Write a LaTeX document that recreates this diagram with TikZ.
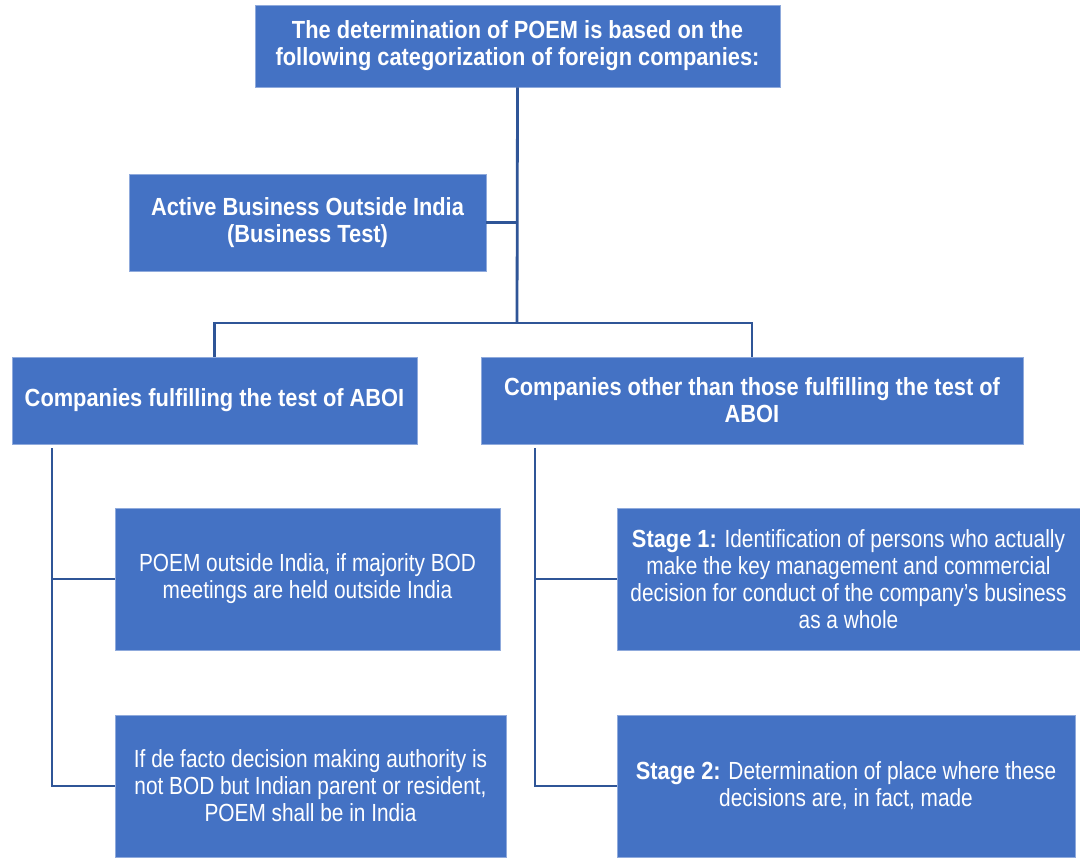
\documentclass[tikz,border=0pt]{standalone}
\usepackage{fontspec}
\setmainfont{Liberation Sans}[FakeStretch=0.84, BoldFeatures={FakeStretch=0.88}]
\usepackage{xcolor}
\usepackage{tikz}
\usetikzlibrary{arrows.meta,
                calc,
                positioning}

\definecolor{boxblue}{HTML}{4472C4}
\definecolor{edgeblue}{HTML}{8FAADC}
\definecolor{linkblue}{HTML}{2F5597}

\tikzset{
  catbox/.style={rectangle, fill=boxblue, draw=edgeblue, line width=0.6pt,
                 text=white, align=center, inner sep=0pt,
                 font=\fontsize{18.6}{20.3}\selectfont},
  headbox/.style={catbox, font=\fontsize{18.6}{20.3}\selectfont\bfseries},
  link/.style={draw=linkblue, line width=2.1pt}
}

\begin{document}
\begin{tikzpicture}[x=0.75pt,y=-0.75pt]
\useasboundingbox (0,0) rectangle (1080,857);

% top of the tree
\node[headbox, minimum width=393.75pt, minimum height=61.5pt] (poem) at (517.5,46)
  {The determination of POEM is based on the\\following categorization of foreign companies:};
\node[headbox, minimum width=267.75pt, minimum height=72.75pt] (aboi) at (307.5,222.5)
  {Active Business Outside India\\(Business Test)};

% two categories
\node[headbox, minimum width=303.75pt, minimum height=65.25pt] (fulfil) at (214.5,400.5)
  {Companies fulfilling the test of ABOI};
\node[headbox, minimum width=406.5pt, minimum height=65.25pt] (other) at (752,400.5)
  {Companies other than those fulfilling the test of\\ABOI};

% left branch
\node[catbox, minimum width=288.75pt, minimum height=106.5pt] (bodout) at (307.5,579)
  {POEM outside India, if majority BOD\\meetings are held outside India};
\node[catbox, minimum width=293.25pt, minimum height=106.5pt] (defacto) at (310.5,786)
  {If de facto decision making authority is\\not BOD but Indian parent or resident,\\POEM shall be in India};

% right branch
\node[catbox, minimum width=347.25pt, minimum height=106.5pt] (stageone) at (848.5,579)
  {\textbf{Stage 1:} Identification of persons who actually\\make the key management and commercial\\decision for conduct of the company’s business\\as a whole};
\node[catbox, minimum width=343.5pt, minimum height=106.5pt] (stagetwo) at (846,786)
  {\textbf{Stage 2:} Determination of place where these\\decisions are, in fact, made};

\coordinate (bus) at (517,323);
\coordinate (lspine) at (52,448);
\coordinate (rspine) at (535,448);

\draw[link] (poem.south) -- (bus);
\draw[link] (aboi.east) -- (aboi.east -| bus);
\draw[link] (fulfil.north) |- (bus) -| (other.north);
\foreach \n in {bodout,defacto}
  \draw[link] (lspine) |- (\n.west);
\foreach \n in {stageone,stagetwo}
  \draw[link] (rspine) |- (\n.west);
\end{tikzpicture}
\end{document}
